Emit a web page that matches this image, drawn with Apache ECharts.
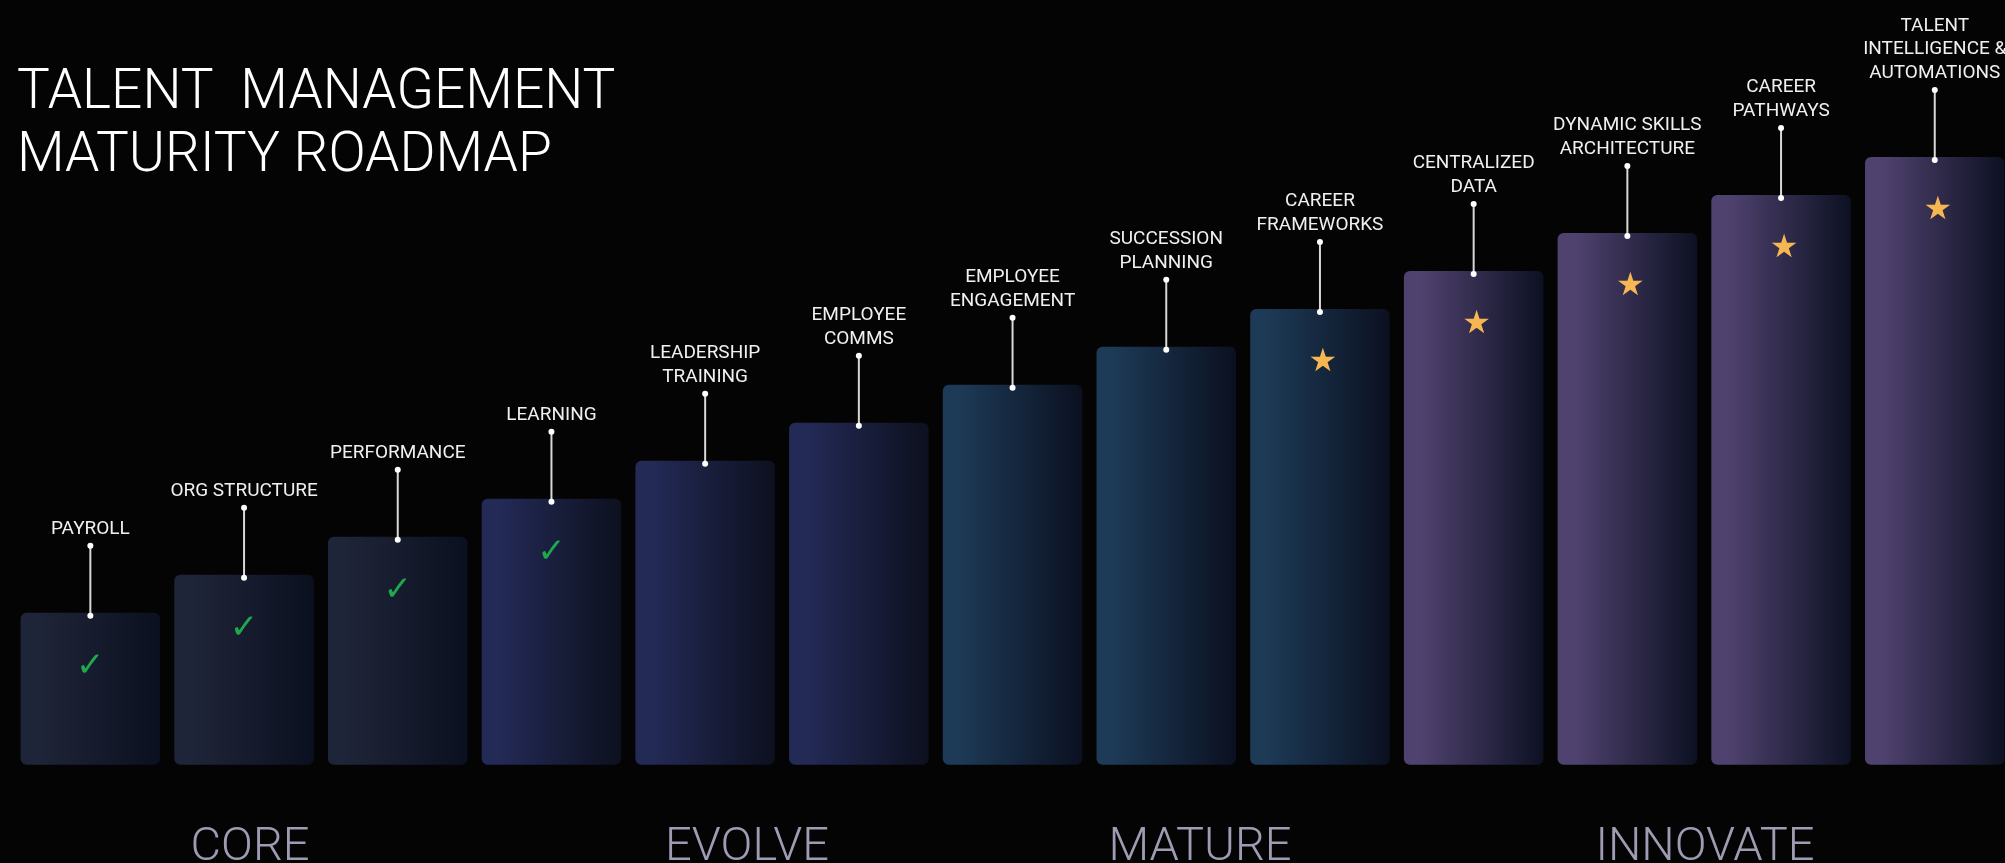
<!DOCTYPE html>
<html>
<head>
<meta charset="utf-8">
<script src="https://cdn.jsdelivr.net/npm/echarts@6/dist/echarts.min.js"></script>
<style>
html,body{margin:0;padding:0;background:#040404;}
#chart{width:2005px;height:863px;}
</style>
</head>
<body>
<div id="chart"></div>
<script>
// ---- data ----
const categories = ['PAYROLL','ORG STRUCTURE','PERFORMANCE','LEARNING','LEADERSHIP\nTRAINING','EMPLOYEE\nCOMMS','EMPLOYEE\nENGAGEMENT','SUCCESSION\nPLANNING','CAREER\nFRAMEWORKS','CENTRALIZED\nDATA','DYNAMIC SKILLS\nARCHITECTURE','CAREER\nPATHWAYS','TALENT\nINTELLIGENCE &\nAUTOMATIONS'];
const values = [4,5,6,7,8,9,10,11,12,13,14,15,16];
const barPhase = ['CORE','CORE','CORE','EVOLVE','EVOLVE','EVOLVE','MATURE','MATURE','MATURE','INNOVATE','INNOVATE','INNOVATE','INNOVATE'];
const status = ['done','done','done','done','','','','','star','star','star','star','star'];
const phases = ['CORE','EVOLVE','MATURE','INNOVATE'];
const phaseX = [250,747,1200,1705];

// ---- styles ----
const phaseColors = {
  CORE: ['#1f2538','#0b1020'],
  EVOLVE: ['#232a56','#0d101e'],
  MATURE: ['#1d3a56','#0b1020'],
  INNOVATE: ['#50426f','#0c1122']
};
function grad(p){
  const c = phaseColors[p];
  return new echarts.graphic.LinearGradient(0,0,1,0,[
    {offset:0,color:c[0]},{offset:0.12,color:c[0]},{offset:1,color:c[1]}
  ]);
}

const chart = echarts.init(document.getElementById('chart'));
const option = {
  backgroundColor:'#040404',
  animation:false,
  grid:{left:13.5, top:5, right:0, bottom:98.3, containLabel:false},
  // category positions on a numeric axis so the last bar runs off the right edge like the reference
  xAxis:{type:'value', min:-0.5, max:12.457, show:false},
  yAxis:{type:'value', min:0, max:20, show:false},
  graphic:[
    {type:'text', left:17, top:63, style:{text:'TALENT  MANAGEMENT\nMATURITY ROADMAP', fill:'#ffffff', font:'300 55px Roboto', lineHeight:63}},
  ].concat(phases.map((p,i)=>({
    type:'text', x:phaseX[i], y:825, style:{text:p, fill:'#9d9cb3', font:'300 47px Roboto', textAlign:'center', textVerticalAlign:'top'}
  }))),
  series:[
    {
      type:'bar',
      data: values.map((v,i)=>({value:[i,v], itemStyle:{color:grad(barPhase[i])}})),
      barWidth:139.5,
      itemStyle:{borderRadius:6}
    },
    {
      type:'custom',
      data: values.map((v,i)=>[i,v]),
      z:5,
      renderItem:function(params, api){
        const i = api.value(0);
        const pt = api.coord([i, api.value(1)]);
        const x = pt[0], y = pt[1];
        const top = y - 67, bot = y + 3;
        const children = [
          {type:'line', shape:{x1:x,y1:top,x2:x,y2:bot}, style:{stroke:'#d8d8d8', lineWidth:2}},
          {type:'circle', shape:{cx:x,cy:top,r:3}, style:{fill:'#ffffff'}},
          {type:'circle', shape:{cx:x,cy:bot,r:3}, style:{fill:'#ffffff'}},
          {type:'text', x:x, y:top-5, style:{text:categories[i], fill:'#f0f0f0', font:'400 19px Roboto', textAlign:'center', textVerticalAlign:'bottom', lineHeight:23.5}}
        ];
        if(status[i]==='done'){
          children.push({type:'text', x:x, y:y+54, style:{text:'\u2713', fill:'#1eaa4c', font:'34px "DejaVu Sans"', textAlign:'center', textVerticalAlign:'middle'}});
        } else if(status[i]==='star'){
          children.push({type:'text', x:x+3, y:y+54, style:{text:'\u2605', fill:'#f6b752', font:'32px "DejaVu Sans"', textAlign:'center', textVerticalAlign:'middle'}});
        }
        return {type:'group', children:children};
      }
    }
  ]
};
chart.setOption(option);
</script>
</body>
</html>
